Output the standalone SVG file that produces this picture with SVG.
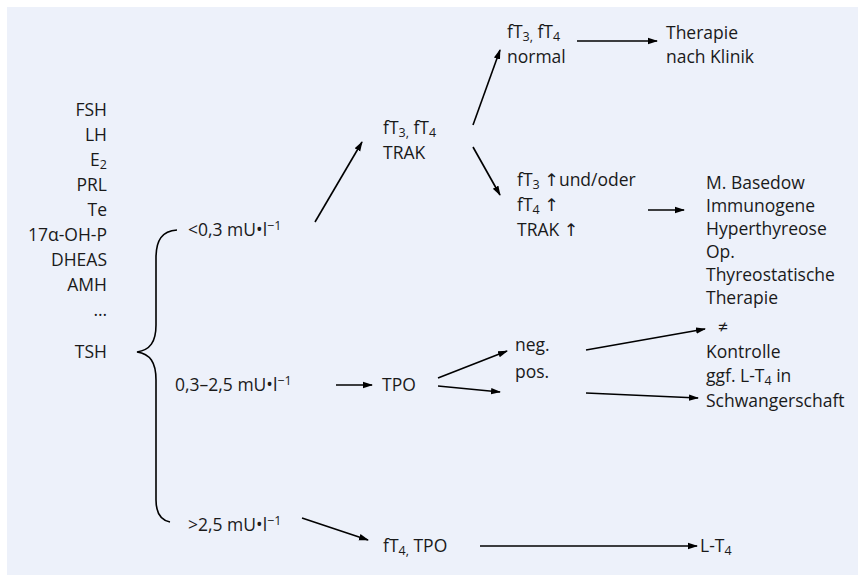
<svg xmlns="http://www.w3.org/2000/svg" width="858" height="575" viewBox="0 0 858 575">
<defs>
<marker id="ah" markerWidth="10" markerHeight="8" refX="9" refY="4" orient="auto" markerUnits="userSpaceOnUse">
<path d="M0,0.8 L10,4 L0,7.2 Z" fill="#000"/>
</marker>
<style>
text{font-family:"Open Sans","Noto Sans","DejaVu Sans",sans-serif;font-size:17.5px;fill:#1a1a1a}
.r{text-anchor:end}
.c line,.c path{stroke:#000;stroke-width:1.6;fill:none}
.s{font-size:12.5px}
</style>
</defs>
<rect x="0" y="0" width="858" height="575" fill="#fff"/>
<rect x="7" y="7" width="851" height="568" fill="#edf1fa"/>
<g id="hormones">
<text class="r" x="107" y="116">FSH</text>
<text class="r" x="107" y="141">LH</text>
<text class="r" x="107" y="166">E<tspan class="s" dy="2.5">2</tspan></text>
<text class="r" x="107" y="191">PRL</text>
<text class="r" x="107" y="216">Te</text>
<text class="r" x="107" y="241">17α-OH-P</text>
<text class="r" x="107" y="266">DHEAS</text>
<text class="r" x="107" y="291">AMH</text>
<text class="r" x="107" y="316">…</text>
<text class="r" x="107" y="358">TSH</text>
</g>
<g id="lt03"><text x="188" y="236">&lt;0,3 mU•l<tspan class="s" dy="-6">−1</tspan></text></g>
<g id="mid"><text x="175" y="391">0,3–2,5 mU•l<tspan class="s" dy="-6">−1</tspan></text></g>
<g id="gt25"><text x="188" y="531">&gt;2,5 mU•l<tspan class="s" dy="-6">−1</tspan></text></g>
<g id="ft3ft4trak"><text x="383" y="134">fT<tspan class="s" dy="2.5">3,</tspan><tspan dy="-2.5"> fT</tspan><tspan class="s" dy="2.5">4</tspan></text><text x="383" y="159">TRAK</text></g>
<g id="normal"><text x="507" y="38">fT<tspan class="s" dy="2.5">3,</tspan><tspan dy="-2.5"> fT</tspan><tspan class="s" dy="2.5">4</tspan></text><text x="507" y="63">normal</text></g>
<g id="therapie"><text x="666" y="39">Therapie</text><text x="666" y="63">nach Klinik</text></g>
<g id="erhoeht"><text x="517" y="186">fT<tspan class="s" dy="2.5">3</tspan><tspan dy="-2.5"> ↑und/oder</tspan></text><text x="517" y="211">fT<tspan class="s" dy="2.5">4</tspan><tspan dy="-2.5"> ↑</tspan></text><text x="517" y="236">TRAK ↑</text></g>
<g id="basedow">
<text x="706" y="189">M. Basedow</text>
<text x="706" y="212">Immunogene</text>
<text x="706" y="235">Hyperthyreose</text>
<text x="706" y="258">Op.</text>
<text x="706" y="281">Thyreostatische</text>
<text x="706" y="304">Therapie</text>
</g>
<g id="tpo"><text x="382" y="391">TPO</text></g>
<g id="neg"><text x="515" y="351">neg.</text></g>
<g id="pos"><text x="515" y="378">pos.</text></g>
<g id="ne"><text x="718" y="333">≠</text></g>
<g id="kontrolle"><text x="706" y="358">Kontrolle</text><text x="706" y="382">ggf. L-T<tspan class="s" dy="2.5">4</tspan><tspan dy="-2.5"> in</tspan></text><text x="706" y="407">Schwangerschaft</text></g>
<g id="ft4tpo"><text x="383" y="552">fT<tspan class="s" dy="2.5">4,</tspan><tspan dy="-2.5"> TPO</tspan></text></g>
<g id="lt4"><text x="700" y="552">L-T<tspan class="s" dy="2.5">4</tspan></text></g>
<g id="connectors" class="c">
<path d="M177,230 C162,231 156,240 156,258 L156,325 C156,342 150,350 137,352 C150,354 156,362 156,380 L156,500 C156,512 160,520 170,522"/>
<line x1="315" y1="222" x2="362" y2="142" marker-end="url(#ah)"/>
<line x1="473" y1="125" x2="500" y2="50" marker-end="url(#ah)"/>
<line x1="473" y1="147" x2="500" y2="195" marker-end="url(#ah)"/>
<line x1="577" y1="41" x2="657" y2="41" marker-end="url(#ah)"/>
<line x1="648" y1="210" x2="684" y2="210" marker-end="url(#ah)"/>
<line x1="336" y1="385" x2="372" y2="385" marker-end="url(#ah)"/>
<line x1="438" y1="378" x2="507" y2="351" marker-end="url(#ah)"/>
<line x1="438" y1="386" x2="500" y2="392" marker-end="url(#ah)"/>
<line x1="586" y1="350" x2="705" y2="329" marker-end="url(#ah)"/>
<line x1="586" y1="393" x2="698" y2="398" marker-end="url(#ah)"/>
<line x1="302" y1="518" x2="368" y2="540" marker-end="url(#ah)"/>
<line x1="480" y1="546" x2="697" y2="546" marker-end="url(#ah)"/>
</g>
</svg>
